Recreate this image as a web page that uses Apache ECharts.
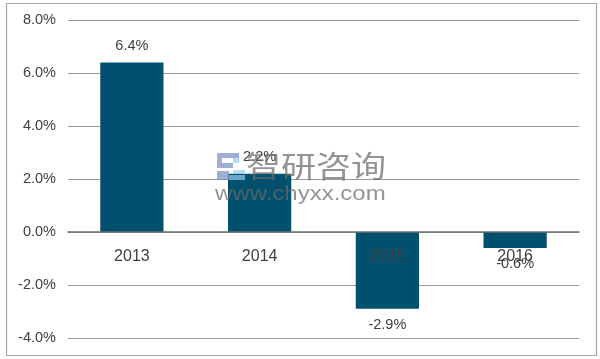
<!DOCTYPE html>
<html><head><meta charset="utf-8">
<style>html,body{margin:0;padding:0;background:#fff}#c{width:600px;height:359px}</style>
<script src="https://cdn.jsdelivr.net/npm/echarts@6/dist/echarts.min.js"></script>
</head><body><div id="c"></div>
<script>
const categories = ['2013','2014','2015','2016'];
const values = [6.4,2.2,-2.9,-0.6];
const tickMin = -4, tickMax = 8, tickStep = 2;
const font = '"Liberation Sans", Arial, sans-serif';
const periwinkle = 'rgba(120,140,195,0.7)', skyblue = 'rgba(150,205,240,0.7)', wmGray = 'rgba(105,105,105,0.72)';
const rect = (x,y,w,h,fill)=>({type:'rect',z:10,silent:true,shape:{x,y,width:w,height:h},style:{fill}});
const chart = echarts.init(document.getElementById('c'),null,{renderer:'canvas'});
chart.setOption({
  animation:false,
  backgroundColor:'#fff',
  grid:{left:68,right:21,top:20,bottom:21,containLabel:false,outerBoundsMode:'none'},
  xAxis:{type:'category',data:categories,z:5,
    axisLine:{onZero:true,lineStyle:{color:'#6e6e6e',width:1.5}},
    axisTick:{show:false},
    axisLabel:{color:'#404040',fontFamily:font,fontSize:16,margin:-89}},
  yAxis:{type:'value',min:tickMin,max:tickMax,interval:tickStep,
    axisLine:{show:false},axisTick:{show:false},
    axisLabel:{color:'#404040',fontFamily:font,fontSize:14.5,margin:12,formatter:v=>v.toFixed(1)+'%'},
    splitLine:{lineStyle:{color:'#9a9a9a',width:1.2}}},
  series:[{type:'bar',data:values,barWidth:'49.5%',z:3,
    itemStyle:{color:'#00506e'},
    label:{show:true,position:'outside',distance:9,color:'#404040',fontFamily:font,fontSize:14.5,
      formatter:p=>p.value.toFixed(1)+'%'}}],
  graphic:[
    {type:'rect',silent:true,z:0,shape:{x:6.5,y:3.5,width:590,height:352},style:{fill:'none',stroke:'#a6a6a6',lineWidth:1.2}},
    rect(217,153,22,5,periwinkle),
    rect(217,158,5,10,periwinkle),
    rect(222,163,11,5,periwinkle),
    rect(217,171,12,9,periwinkle),
    rect(233,158,6,5,skyblue),
    rect(233,170,12,4,skyblue),
    rect(229,175,16,5,skyblue),
    {type:'text',z:10,silent:true,x:246,y:151,scaleX:1.03,scaleY:0.86,style:{x:0,y:0,text:'智研咨询',fill:wmGray,font:'34px "Noto Sans CJK SC"'}},
    {type:'text',z:10,silent:true,x:215,y:184,scaleX:1.2,style:{x:0,y:0,text:'www.chyxx.com',fill:wmGray,font:'20px "Liberation Sans"'}}
  ]
});
</script></body></html>
